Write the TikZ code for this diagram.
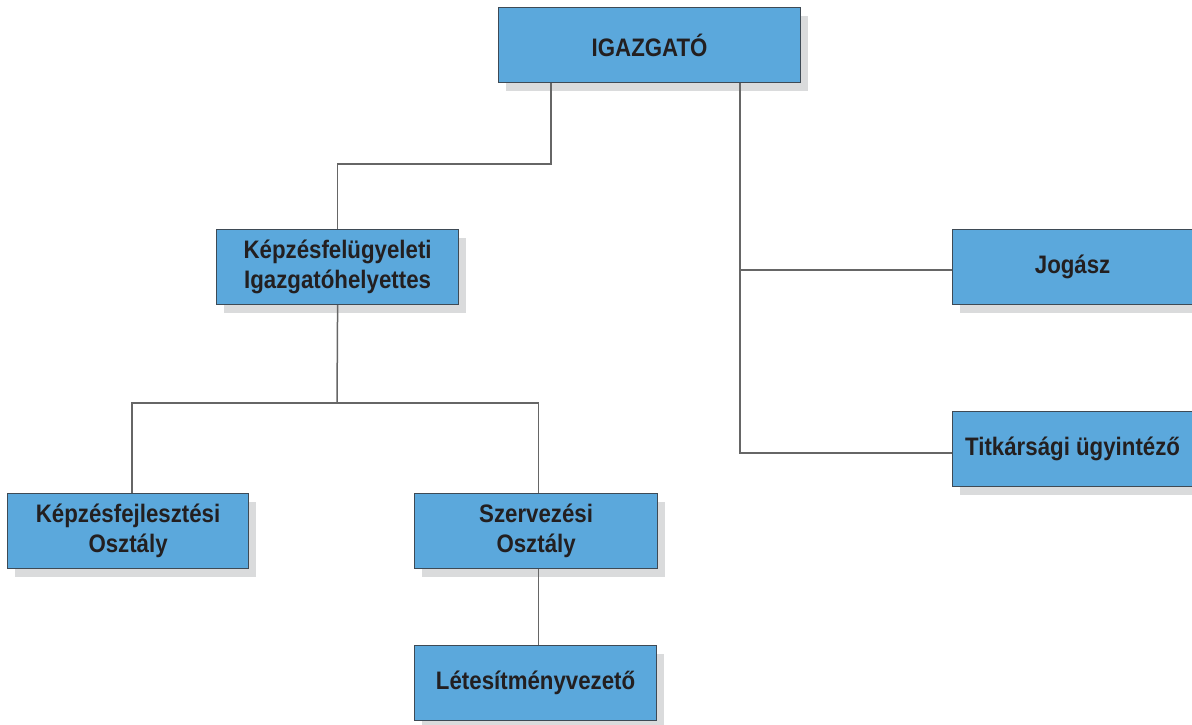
\documentclass[tikz,border=0pt]{standalone}
\usepackage{fontspec}
\setmainfont{Liberation Sans}[FakeStretch=0.88]
\usetikzlibrary{shadows}
\definecolor{boxfill}{HTML}{5BA8DC}
\definecolor{boxline}{HTML}{3E4A55}
\definecolor{shadowgray}{HTML}{DADBDC}
\definecolor{linegray}{HTML}{666666}
\definecolor{txt}{HTML}{231F20}
\tikzset{
  box/.style={draw=boxline, line width=1.2pt, fill=boxfill, anchor=north west,
    minimum width=242pt, minimum height=75pt, inner sep=0pt, align=center,
    text=txt, font=\fontsize{25.3}{30}\selectfont\bfseries,
    drop shadow={shadow xshift=7pt, shadow yshift=-8pt, fill=shadowgray, opacity=1}},
  conn/.style={draw=linegray, line width=1.5pt}
}
\begin{document}
\begin{tikzpicture}[x=1pt,y=-1pt]
\clip (0,0) rectangle (1192,724);
\fill[white] (0,0) rectangle (1192,724);
\node[box, minimum width=302pt] (ig) at (498,7) {IGAZGATÓ};
\node[box] (kf) at (216,229) {Képzésfelügyeleti\\Igazgatóhelyettes};
\node[box, minimum width=250pt] (jo) at (952,229) {\hspace*{-10pt}Jogász};
\node[box, minimum width=250pt] (ti) at (952,411) {\hspace*{-10pt}Titkársági ügyintéző};
\node[box, minimum width=241pt] (kfo) at (7,493) {Képzésfejlesztési\\Osztály};
\node[box, minimum width=243pt] (sz) at (414,493) {Szervezési\\Osztály};
\node[box, minimum width=242pt] (le) at (414,645) {Létesítményvezető};
\draw[conn] (ig.south -| 551,0) -- (551,164) -| (kf.north);
\draw[conn] (ig.south -| 740,0) |- ([yshift=-3pt]jo.west);
\draw[conn] (ig.south -| 740,0) |- ([yshift=-4pt]ti.west);
\draw[conn] (kf.south) -- (337,403) coordinate (kj);
\draw[conn] (kfo.north -| 132,0) |- (kj) -| (sz.north -| 538.5,0);
\draw[conn] (sz.south -| 538.5,0) -- (le.north -| 538.5,0);
\end{tikzpicture}
\end{document}
